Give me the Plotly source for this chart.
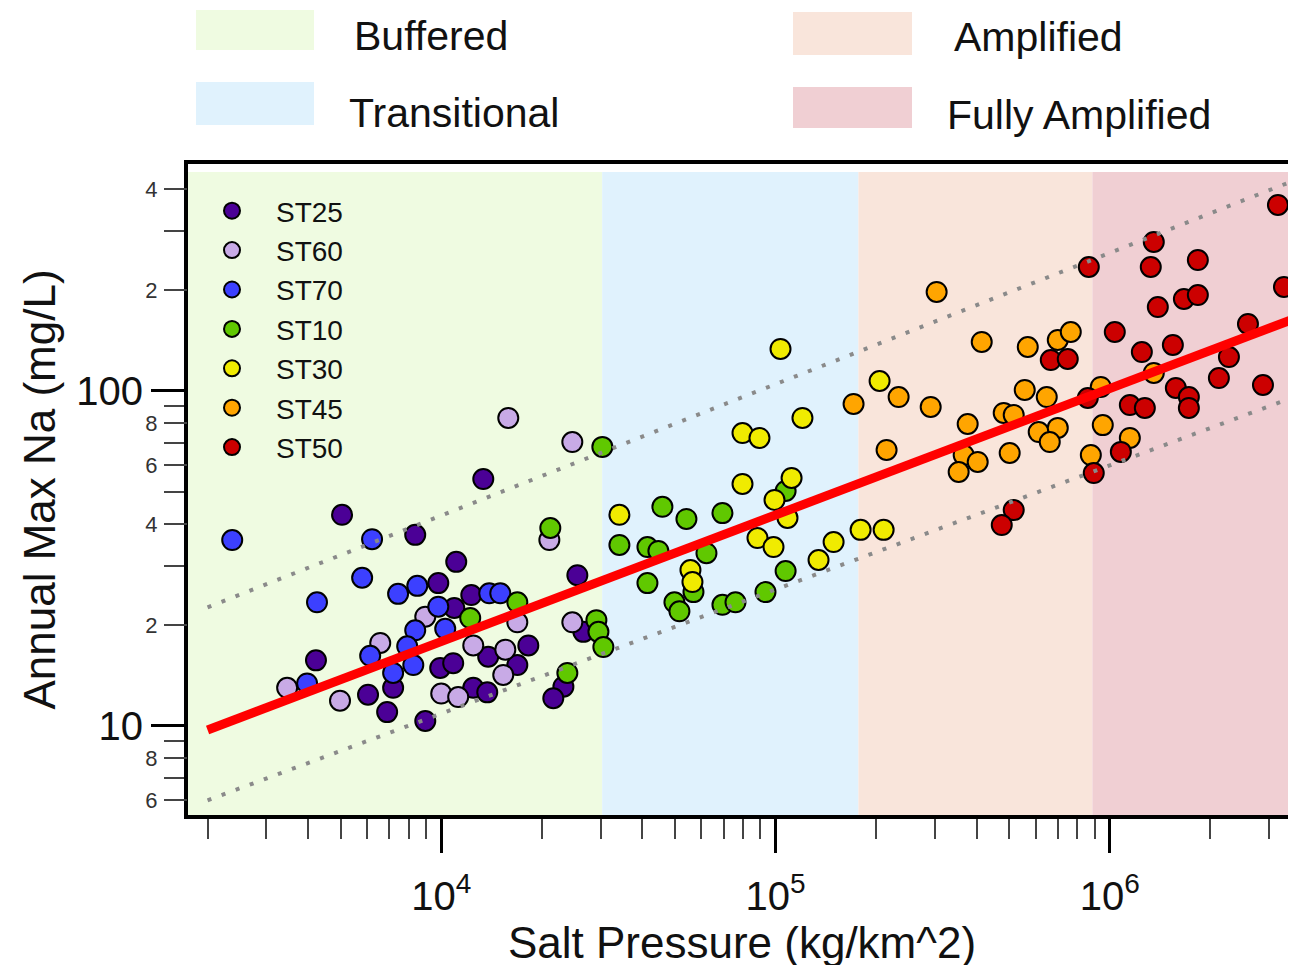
import plotly.graph_objects as go

# ---------------- data ----------------
series_names = ["ST25", "ST60", "ST70", "ST10", "ST30", "ST45", "ST50"]
series_colors = ["#4B0096", "#C8AAE6", "#3C40FF", "#60C800", "#F0EB00", "#FFA500", "#CC0000"]

st25_x = [5050, 8360, 13360, 11090, 25540, 9800, 12300, 10940, 4220, 18220, 26620, 13820,
          16890, 9930, 10860, 6040, 7180, 6890, 8960, 12470, 13730, 23200, 21640]
st25_y = [42.7, 37.2, 54.6, 30.9, 28.2, 26.7, 24.6, 22.5, 15.7, 17.4, 19.1, 16.1,
          15.2, 14.9, 15.4, 12.4, 13.0, 11.0, 10.35, 13.0, 12.6, 13.1, 12.1]

st60_x = [15870, 24670, 21060, 8960, 6570, 16890, 24670, 12470, 15550, 15330, 3460, 4980, 10000, 11240]
st60_y = [83.1, 70.4, 35.9, 21.2, 17.7, 20.4, 20.4, 17.4, 16.9, 14.2, 13.0, 11.9, 12.5, 12.2]

st70_x = [2370, 6210, 5800, 4250, 7430, 8480, 13920, 15020, 9800, 8360, 10280, 6130, 7910, 8250, 7180, 3970]
st70_y = [35.9, 36.1, 27.7, 23.4, 24.8, 26.2, 24.9, 24.9, 22.7, 19.3, 19.5, 16.2, 17.3, 15.2, 14.4, 13.4]

st10_x = [21200, 16890, 12210, 29120, 29530, 30550, 23840, 30340, 45880, 54140, 69380, 34120,
          41390, 44630, 62150, 107200, 107200, 41390, 56830, 49840, 51590, 69380, 75900, 93330]
st10_y = [39.0, 23.4, 21.0, 20.7, 19.1, 17.2, 14.4, 68.1, 45.1, 41.5, 43.2, 34.7,
          34.2, 33.3, 32.8, 50.3, 29.0, 26.7, 25.1, 23.4, 22.0, 23.0, 23.4, 25.1]

st30_x = [103500, 204800, 120400, 79660, 89540, 79660, 111700, 99310, 108600, 34120, 88320,
          98630, 149200, 179700, 210600, 134500, 55660, 56430]
st30_y = [133.5, 107.1, 83.1, 74.9, 72.4, 52.8, 55.0, 47.3, 41.8, 42.7, 36.4,
          34.2, 35.4, 38.5, 38.5, 31.3, 29.2, 26.9]

st45_x = [303400, 171200, 413900, 568300, 698800, 764300, 1354000, 939700, 233500, 291200, 556600,
          647700, 481500, 515900, 375700, 612800, 698800, 661300, 952800, 1148000, 214900, 365500,
          402600, 353100, 501800, 877500]
st45_y = [197.5, 91.5, 140.1, 135.3, 142.0, 150.0, 113.2, 102.8, 95.9, 89.6, 100.7,
          95.9, 86.0, 84.8, 79.7, 75.4, 77.6, 70.4, 79.1, 72.4, 66.7, 64.4,
          61.4, 57.3, 65.3, 64.4]

st50_x = [3184000, 1354000, 1326000, 865400, 1834000, 3319000, 1392000, 1666000, 1834000, 1035000,
          1247000, 1544000, 2590000, 2272000, 2120000, 2872000, 1576000, 1724000, 1724000, 1148000,
          1273000, 859400, 665900, 748600, 1079000, 895400, 515900, 475100]
st50_y = [359.2, 278.5, 234.5, 234.5, 246.0, 204.4, 178.1, 188.2, 193.4, 150.0,
          130.7, 137.2, 158.5, 126.3, 109.3, 104.2, 102.1, 95.9, 89.0, 90.8,
          89.0, 95.3, 123.7, 124.6, 65.8, 56.9, 44.1, 39.8]

series_x = [st25_x, st60_x, st70_x, st10_x, st30_x, st45_x, st50_x]
series_y = [st25_y, st60_y, st70_y, st10_y, st30_y, st45_y, st50_y]

# regression line and bounds (end points)
line_x = [2000, 3.6e6]
fit_y = [9.73, 165]
upper_y = [22.6, 427]
lower_y = [6.0, 96.4]

# regime boundaries (salt pressure)
region_names = ["Buffered", "Transitional", "Amplified", "Fully Amplified"]
region_colors = ["#EFFBE1", "#E0F2FD", "#F9E5DB", "#F0CFD3"]
region_edges = [1748, 30300, 177000, 887000, 3.6e6]

x_range_log = [3.2425, 6.557]
y_range_log = [0.7343, 2.6776]

x_major = [1e4, 1e5, 1e6]
x_major_text = ["10<sup>4</sup>", "10<sup>5</sup>", "10<sup>6</sup>"]
x_minor = [2000, 3000, 4000, 5000, 6000, 7000, 8000, 9000,
           20000, 30000, 40000, 50000, 60000, 70000, 80000, 90000,
           200000, 300000, 400000, 500000, 600000, 700000, 800000, 900000,
           2000000, 3000000]
y_major = [10, 100]
y_major_text = ["10", "100"]
y_minor = [6, 7, 8, 9, 20, 30, 40, 50, 60, 70, 80, 90, 200, 300, 400]
y_minor_lab = [6, 8, 20, 40, 60, 80, 200, 400]
y_minor_text = ["6", "8", "2", "4", "6", "8", "2", "4"]

# ---------------- figure ----------------
# the page body adds an 8px offset; margins compensate so the plot area
# lands at x 188..1296, y 164..815 in the window
W, H = 1296, 965
ML, MR, MT, MB = 180, 8, 156, 158
OFF = 8
FONT = "Arial, Liberation Sans, sans-serif"

fig = go.Figure()

for name, col, xs, ys in zip(series_names, series_colors, series_x, series_y):
    fig.add_trace(go.Scatter(
        x=xs, y=ys, mode="markers", name=name,
        marker=dict(size=20, color=col, line=dict(color="#000000", width=2)),
    ))

fig.add_trace(go.Scatter(x=line_x, y=upper_y, mode="lines", showlegend=False,
                         line=dict(color="#8A8A8A", width=4, dash="4px,11px")))
fig.add_trace(go.Scatter(x=line_x, y=lower_y, mode="lines", showlegend=False,
                         line=dict(color="#8A8A8A", width=4, dash="4px,11px")))
fig.add_trace(go.Scatter(x=line_x, y=fit_y, mode="lines", showlegend=False,
                         line=dict(color="#FF0000", width=9)))
# invisible helper trace for overlay axis with minor labels
fig.add_trace(go.Scatter(x=line_x[:1], y=fit_y[:1], yaxis="y2", mode="markers",
                         marker=dict(opacity=0), showlegend=False, hoverinfo="skip"))

PW = W - ML - MR
PH = H - MT - MB

# regime background shading
top_frac = (815 - 172) / PH
for i, col in enumerate(region_colors):
    fig.add_shape(type="rect", xref="x", yref="paper",
                  x0=region_edges[i], x1=region_edges[i + 1], y0=0, y1=top_frac,
                  fillcolor=col, line=dict(width=0), layer="below")

# regime key above plot (window pixels -> paper coords)
def px2paper_x(px):
    return (px - OFF - ML) / PW

def py2paper_y(py):
    return (H - MB - (py - OFF)) / PH

key_boxes = [(196, 314, 10, 50), (196, 314, 82, 125), (793, 912, 12, 55), (793, 912, 87, 128)]
key_text_pos = [(352, 36), (347, 113), (952, 37), (945, 115)]
for (x0, x1, y0, y1), (tx, ty), name, col in zip(key_boxes, key_text_pos, region_names, region_colors):
    fig.add_shape(type="rect", xref="paper", yref="paper",
                  x0=px2paper_x(x0), x1=px2paper_x(x1),
                  y0=py2paper_y(y1), y1=py2paper_y(y0),
                  fillcolor=col, line=dict(width=0))
    fig.add_annotation(x=px2paper_x(tx), y=py2paper_y(ty), xref="paper", yref="paper",
                       text=name, showarrow=False, xanchor="left", yanchor="middle",
                       font=dict(family=FONT, size=41, color="#111111"))

fig.update_layout(
    width=W, height=H,
    margin=dict(l=ML, r=MR, t=MT, b=MB),
    paper_bgcolor="white", plot_bgcolor="white",
    font=dict(family=FONT, color="#111111"),
    showlegend=True,
    legend=dict(x=0.0, y=0.9662, xanchor="left", yanchor="top",
                bgcolor="rgba(0,0,0,0)", font=dict(family=FONT, size=28, color="#111111"),
                itemwidth=78, tracegroupgap=0),
    xaxis=dict(type="log", range=x_range_log, showgrid=False, zeroline=False,
               showline=True, linecolor="#000000", linewidth=4, mirror=True,
               tickmode="array", tickvals=x_major, ticktext=x_major_text,
               ticks="outside", ticklen=34, tickwidth=3, tickcolor="#000000",
               ticklabelstandoff=9,
               tickfont=dict(family=FONT, size=40, color="#111111"),
               minor=dict(tickmode="array", tickvals=x_minor, ticks="outside",
                          ticklen=20, tickwidth=2, tickcolor="#444444"),
               title=dict(text="Salt Pressure (kg/km^2)", standoff=0,
                          font=dict(family=FONT, size=44, color="#111111"))),
    yaxis=dict(type="log", range=y_range_log, showgrid=False, zeroline=False,
               showline=True, linecolor="#000000", linewidth=4, mirror=False,
               tickmode="array", tickvals=y_major, ticktext=y_major_text,
               ticks="outside", ticklen=33, tickwidth=3, tickcolor="#000000",
               tickfont=dict(family=FONT, size=40, color="#111111"),
               minor=dict(tickmode="array", tickvals=y_minor, ticks="outside",
                          ticklen=20, tickwidth=2, tickcolor="#444444"),
               title=dict(text="Annual Max Na (mg/L)", standoff=8,
                          font=dict(family=FONT, size=44, color="#111111"))),
    yaxis2=dict(type="log", range=y_range_log, overlaying="y", side="left", anchor="x",
                showgrid=False, zeroline=False, showline=False,
                tickmode="array", tickvals=y_minor_lab, ticktext=y_minor_text,
                ticks="outside", ticklen=20, tickwidth=2, tickcolor="#444444",
                ticklabelstandoff=5,
                tickfont=dict(family=FONT, size=22, color="#333333")),
)

fig.write_html("out.html")
